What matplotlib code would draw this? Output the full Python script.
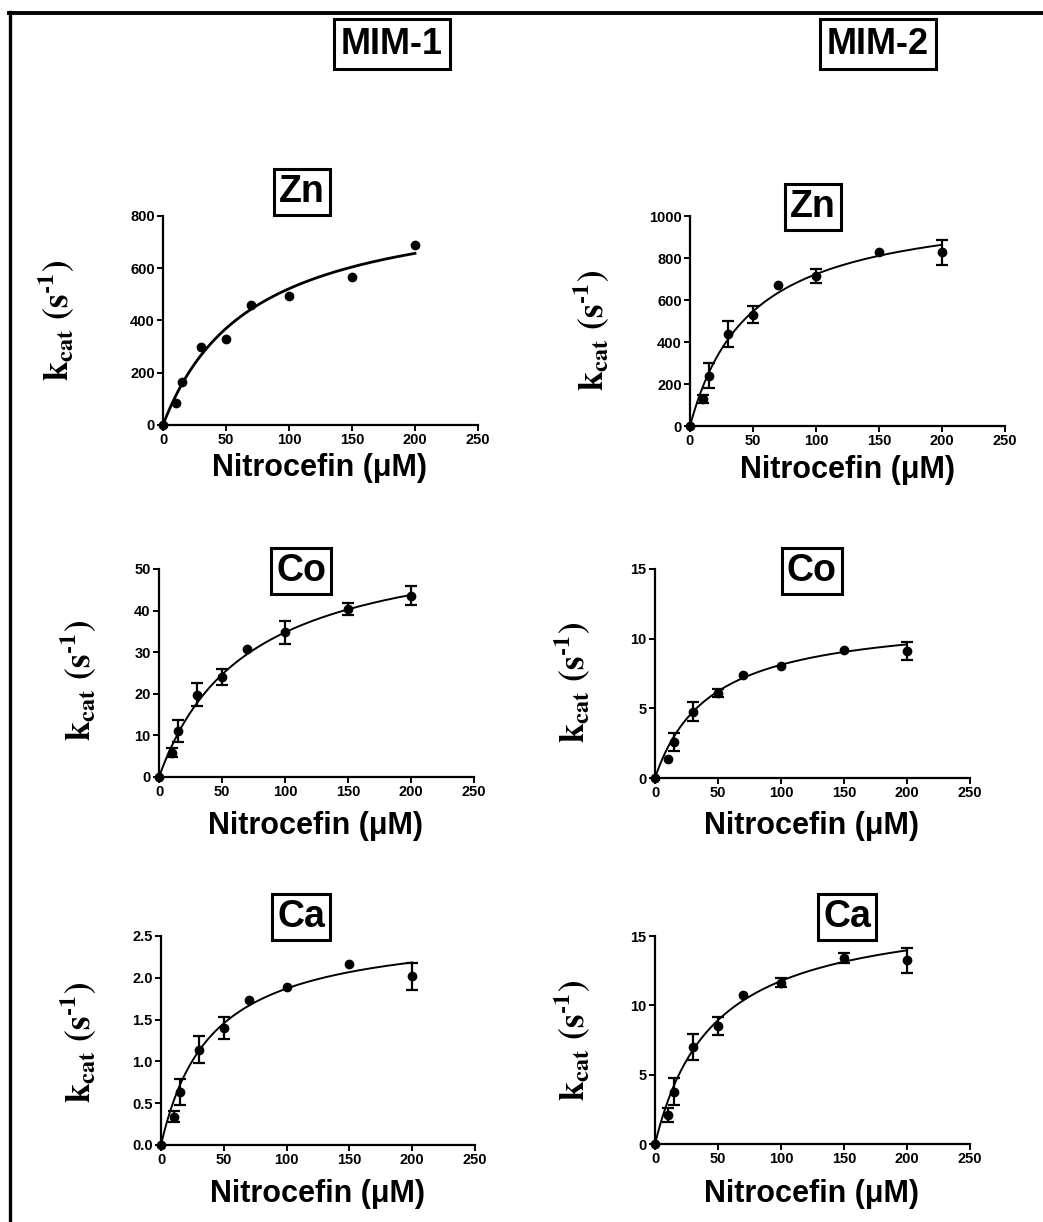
import numpy as np
import matplotlib
matplotlib.use('Agg')
import matplotlib.pyplot as plt
from matplotlib.lines import Line2D

plt.rcParams['font.family'] = ['Liberation Sans', 'DejaVu Sans']
plt.rcParams['font.weight'] = 'bold'
plt.rcParams['mathtext.fontset'] = 'stix'

W, H = 1043, 1222

# substrate concentrations (uM)
conc = [0, 10, 15, 30, 50, 70, 100, 150, 200]

# MIM-1
zn1_k = [0, 85, 163, 300, 328, 458, 495, 568, 688]
zn1_err = [0, 0, 0, 0, 0, 0, 0, 0, 0]
co1_k = [0, 5.8, 11.0, 19.8, 24.0, 30.8, 34.8, 40.4, 43.6]
co1_err = [0, 1.1, 2.6, 2.7, 2.0, 0, 2.8, 1.5, 2.2]
ca1_k = [0, 0.34, 0.63, 1.14, 1.40, 1.74, 1.89, 2.16, 2.02]
ca1_err = [0, 0.065, 0.155, 0.16, 0.13, 0, 0, 0, 0.16]

# MIM-2
zn2_k = [0, 129, 240, 439, 530, 673, 715, 827, 827]
zn2_err = [0, 21, 60, 62, 40, 0, 33, 0, 59]
co2_k = [0, 1.39, 2.6, 4.76, 6.08, 7.4, 8.05, 9.2, 9.09]
co2_err = [0, 0, 0.66, 0.66, 0.3, 0, 0, 0, 0.65]
ca2_k = [0, 2.09, 3.77, 7.0, 8.5, 10.73, 11.64, 13.44, 13.25]
ca2_err = [0, 0.48, 0.96, 0.94, 0.67, 0, 0.3, 0.36, 0.9]

# Michaelis-Menten fit parameters (Vmax, Km)
zn1_fit = (887, 70)
co1_fit = (59.1, 70)
ca1_fit = (2.62, 40)
zn2_fit = (1070, 48)
co2_fit = (11.7, 44)
ca2_fit = (17.2, 46.3)

fig = plt.figure(figsize=(W / 100, H / 100), dpi=100)


def add_ax(x0, x1, y0, y1):
    return fig.add_axes([x0 / W, 1 - y1 / H, (x1 - x0) / W, (y1 - y0) / H])


def panel(ax, k, err, fit, ymax, ystep, fmt, curve_lw=1.4):
    ax.set_xlim(0, 250)
    ax.set_ylim(0, ymax)
    ax.spines['top'].set_visible(False)
    ax.spines['right'].set_visible(False)
    for s in ('left', 'bottom'):
        ax.spines[s].set_linewidth(1.6)
    ax.set_xticks(np.arange(0, 251, 50))
    ax.set_yticks(np.arange(0, ymax + ystep / 2, ystep))
    ax.yaxis.set_major_formatter(plt.FormatStrFormatter(fmt))
    ax.tick_params(width=1.4, length=4, labelsize=10.5, pad=2)
    for lab in ax.get_xticklabels() + ax.get_yticklabels():
        lab.set_fontweight('bold')
    vmax, km = fit
    xs = np.linspace(0, 200, 200)
    ax.plot(xs, vmax * xs / (km + xs), color='black', lw=curve_lw, clip_on=False)
    ax.plot(conc, k, 'o', color='black', ms=6, clip_on=False, zorder=5)
    idx = [i for i, e in enumerate(err) if e > 0]
    if idx:
        ax.errorbar([conc[i] for i in idx], [k[i] for i in idx],
                    yerr=[err[i] for i in idx], fmt='none', ecolor='black',
                    elinewidth=1.6, capsize=4, capthick=1.6, clip_on=False)


ax = add_ax(163, 478, 216, 425)
panel(ax, zn1_k, zn1_err, zn1_fit, 800, 200, '%d', curve_lw=2.0)
ax = add_ax(690, 1005, 216, 426)
panel(ax, zn2_k, zn2_err, zn2_fit, 1000, 200, '%d')
ax = add_ax(159, 474, 569, 777)
panel(ax, co1_k, co1_err, co1_fit, 50, 10, '%d')
ax = add_ax(655, 970, 569, 778)
panel(ax, co2_k, co2_err, co2_fit, 15, 5, '%d')
ax = add_ax(161, 475, 936, 1145)
panel(ax, ca1_k, ca1_err, ca1_fit, 2.5, 0.5, '%.1f')
ax = add_ax(655, 970, 936, 1144)
panel(ax, ca2_k, ca2_err, ca2_fit, 15, 5, '%d')


def ftext(x, y, s, **kw):
    fig.text(x / W, 1 - y / H, s, ha='center', va='center', **kw)


# column headers
hbox = dict(boxstyle='square,pad=0.2', fc='white', ec='black', lw=2.2)
ftext(392, 44, 'MIM-1', fontsize=26, fontweight='bold', bbox=hbox)
ftext(878, 44, 'MIM-2', fontsize=26, fontweight='bold', bbox=hbox)

# metal boxes
mbox = dict(boxstyle='square,pad=0.14', fc='white', ec='black', lw=2.2)
for (x, y, s) in [(302, 192, 'Zn'), (813, 207, 'Zn'), (301, 571, 'Co'),
                  (812, 571, 'Co'), (301, 917, 'Ca'), (847, 917, 'Ca')]:
    ftext(x, y, s, fontsize=27, fontweight='bold', bbox=mbox, zorder=10)

ylab = '$\\mathbf{k_{cat}\\ (s^{\u20101})}$'
for (x, y) in [(56, 320), (591, 330), (78, 680), (572, 682), (78, 1042), (572, 1040)]:
    ftext(x, y, ylab, fontsize=25, rotation=90)

xlab = 'Nitrocefin (\u03bcM)'
for (x, y) in [(320, 468), (847, 470), (316, 826), (812, 826), (318, 1194), (812, 1194)]:
    ftext(x, y, xlab, fontsize=22, fontweight='bold')

# outer frame (left and top edges)
fig.add_artist(Line2D([10 / W, 10 / W], [0, 1 - 12 / H], color='black', lw=2.4))
fig.add_artist(Line2D([9 / W, 1], [1 - 13 / H, 1 - 13 / H], color='black', lw=2.8))

fig.savefig('out.png', dpi=100)
